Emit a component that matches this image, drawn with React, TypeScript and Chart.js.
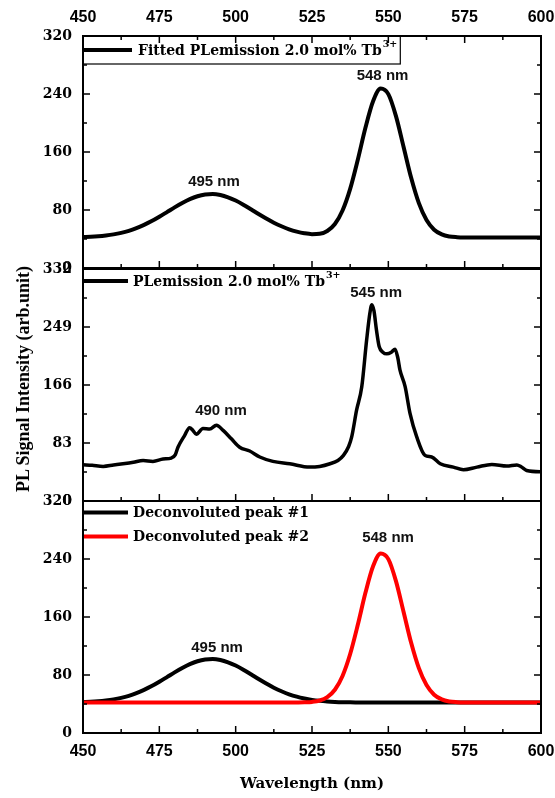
import React, { useEffect, useRef } from "react";
import { Chart, registerables } from "chart.js";

Chart.register(...registerables);

// ---------- data ----------
const X_TICKS = [450, 475, 500, 525, 550, 575, 600];
const FIT_Y_TICKS = [0, 80, 160, 240, 320];
const PL_Y_TICKS = [0, 83, 166, 249, 332];
const DECONV_Y_TICKS = [0, 80, 160, 240, 320];

const WAVELENGTHS = [
  450, 452.5, 455, 457.5, 460, 462.5, 465, 467.5, 470, 472.5, 475, 477.5, 480, 482.5, 485, 487.5,
  490, 492.5, 495, 497.5, 500, 502.5, 505, 507.5, 510, 512.5, 515, 517.5, 520, 522.5, 525, 527.5,
  530, 532.5, 535, 537.5, 540, 542.5, 545, 547.5, 550, 552.5, 555, 557.5, 560, 562.5, 565, 567.5,
  570, 572.5, 575, 577.5, 580, 582.5, 585, 587.5, 590, 592.5, 595, 597.5, 600,
];

const FITTED_PL = [
  42.7, 43.1, 43.8, 44.9, 46.4, 48.5, 51.3, 55.0, 59.5, 64.7, 70.7, 77.1, 83.6, 89.7, 95.0, 99.0,
  101.4, 102.0, 100.6, 97.5, 93.0, 87.3, 81.0, 74.5, 68.3, 62.5, 57.6, 53.4, 50.2, 47.9, 46.7, 47.2,
  51.1, 60.7, 79.3, 109.2, 149.4, 193.4, 230.0, 247.5, 239.8, 209.5, 166.9, 124.0, 89.4, 66.1, 52.8, 46.3,
  43.5, 42.5, 42.1, 42, 42, 42, 42, 42, 42, 42, 42, 42, 42,
];

const PEAK1 = [
  42.7, 43.1, 43.8, 44.9, 46.4, 48.5, 51.3, 55.0, 59.5, 64.7, 70.7, 77.1, 83.6, 89.7, 95.0, 99.0,
  101.4, 102.0, 100.6, 97.5, 93.0, 87.3, 81.0, 74.5, 68.3, 62.5, 57.6, 53.4, 50.1, 47.6, 45.7, 44.4,
  43.5, 42.9, 42.5, 42.3, 42.2, 42.1, 42.0, 42, 42, 42, 42, 42, 42, 42, 42, 42,
  42, 42, 42, 42, 42, 42, 42, 42, 42, 42, 42, 42, 42,
];

const PEAK2 = [
  42, 42, 42, 42, 42, 42, 42, 42, 42, 42, 42, 42, 42, 42, 42, 42,
  42, 42, 42, 42, 42, 42, 42, 42, 42, 42, 42, 42, 42.1, 42.3, 42.9, 44.8,
  49.6, 59.7, 78.7, 108.9, 149.2, 193.3, 229.9, 247.5, 239.8, 209.5, 166.9, 124.0, 89.4, 66.1, 52.8, 46.3,
  43.5, 42.5, 42.1, 42, 42, 42, 42, 42, 42, 42, 42, 42, 42,
];

const PL_WAVELENGTHS = [
  450, 453, 456.6, 460, 463.1, 466.5, 469.7, 472.9, 476.2, 478.9, 480.2, 481.1, 483.3, 484.9, 486,
  487.1, 489.3, 491.5, 493.7, 495.9, 498.6, 501.3, 504.6, 507.9, 512.2, 517.7, 524.2, 527.5, 530.9,
  533.5, 535.3, 537, 538, 539.6, 541.3, 542.9, 544, 544.6, 545.3, 546.1, 547, 548.2, 549.5, 551,
  552.2, 553.1, 553.8, 555.5, 557.1, 559.3, 562, 564.2, 567, 571.3, 574.6, 579, 583.9, 588.8, 592.1,
  593.5, 595.3, 599.7, 600,
];
const PL_SIGNAL = [
  52, 51, 49.5, 51.5, 53.3, 55.5, 58, 56.7, 60, 61.5, 66, 77, 94, 105, 101,
  95.5, 103.7, 103, 108.5, 101, 89, 77, 71.5, 63, 56.7, 53.3, 48.5, 49.5, 53.3,
  58, 65.3, 78, 91.7, 130, 163.6, 230.7, 270, 281, 272, 245, 221, 213, 210.6, 213,
  217.3, 205, 187.6, 163.6, 125.3, 91.7, 65.3, 63, 53.3, 48.5, 44.7, 48.5, 52.4, 50, 51.5,
  49, 43.7, 42, 42,
];

const FIT_LABELS = [
  { text: "495 nm", x: 492.9, y: 119 },
  { text: "548 nm", x: 548.1, y: 265 },
];
const PL_LABELS = [
  { text: "490 nm", x: 495.2, y: 128.6 },
  { text: "545 nm", x: 546, y: 298 },
];
const DECONV_LABELS = [
  { text: "495 nm", x: 493.9, y: 117.7 },
  { text: "548 nm", x: 549.9, y: 269.4 },
];

const LEGEND_FIT = "Fitted PLemission 2.0 mol% Tb";
const LEGEND_PL = "PLemission 2.0 mol% Tb";
const LEGEND_P1 = "Deconvoluted peak #1";
const LEGEND_P2 = "Deconvoluted peak #2";
const ION_CHARGE = "3+";

const X_TITLE = "Wavelength (nm)";
const Y_TITLE = "PL Signal Intensity (arb.unit)";

// ---------- styling ----------
const SERIF = '"DejaVu Serif", serif';
const SANS = '"Liberation Sans", Arial, sans-serif';
const W = 555;

type LegendItem = { text: string; sup?: string; color: string; dy: number };
type Spec = {
  topTicks: boolean;
  yTicks: number[];
  labels: { text: string; x: number; y: number }[];
  legend: LegendItem[];
  legendBox: boolean;
  lineLen: number;
  gap: number;
};

function mids(a: number[]) {
  return a.slice(1).map((v, i) => (v + a[i]) / 2);
}

function makeDecor(spec: Spec) {
  return {
    id: "decor",
    afterDraw(chart: any) {
      const { ctx, chartArea: a } = chart;
      const xs = chart.scales.x;
      const ys = chart.scales.y;
      ctx.save();
      ctx.strokeStyle = "#000";
      ctx.lineCap = "butt";

      // inward ticks
      const MAJ = 7;
      const MIN = 4;
      ctx.lineWidth = 1.5;
      const xTicks = [
        ...X_TICKS.map((v) => [v, MAJ]),
        ...mids(X_TICKS).map((v) => [v, MIN]),
      ];
      xTicks.forEach(([v, len]) => {
        const px = xs.getPixelForValue(v);
        ctx.beginPath();
        ctx.moveTo(px, a.bottom);
        ctx.lineTo(px, a.bottom - len);
        if (spec.topTicks) {
          ctx.moveTo(px, a.top);
          ctx.lineTo(px, a.top + len);
        }
        ctx.stroke();
      });
      const yTicks = [
        ...spec.yTicks.map((v) => [v, MAJ]),
        ...mids(spec.yTicks).map((v) => [v, MIN]),
      ];
      yTicks.forEach(([v, len]) => {
        const py = ys.getPixelForValue(v);
        ctx.beginPath();
        ctx.moveTo(a.left, py);
        ctx.lineTo(a.left + len, py);
        ctx.moveTo(a.right, py);
        ctx.lineTo(a.right - len, py);
        ctx.stroke();
      });

      // peak annotations
      ctx.fillStyle = "#111";
      ctx.font = `bold 15px ${SANS}`;
      ctx.textAlign = "center";
      ctx.textBaseline = "middle";
      spec.labels.forEach((l) => {
        ctx.fillText(l.text, xs.getPixelForValue(l.x), ys.getPixelForValue(l.y));
      });

      // legend
      ctx.textAlign = "left";
      let textEnd = a.left;
      spec.legend.forEach((it) => {
        const y = a.top + it.dy;
        ctx.strokeStyle = it.color;
        ctx.lineWidth = 4;
        ctx.beginPath();
        ctx.moveTo(a.left, y);
        ctx.lineTo(a.left + spec.lineLen, y);
        ctx.stroke();
        const tx = a.left + spec.lineLen + spec.gap;
        ctx.fillStyle = "#000";
        ctx.font = `bold 14px ${SERIF}`;
        ctx.textBaseline = "middle";
        ctx.fillText(it.text, tx, y + 1);
        let end = tx + ctx.measureText(it.text).width;
        if (it.sup) {
          ctx.font = `bold 9.5px ${SERIF}`;
          ctx.fillText(it.sup, end + 1, y - 5);
          end += 1 + ctx.measureText(it.sup).width;
        }
        textEnd = Math.max(textEnd, end);
      });
      if (spec.legendBox) {
        ctx.strokeStyle = "#000";
        ctx.lineWidth = 1.2;
        ctx.strokeRect(a.left, a.top, textEnd + 3 - a.left, 28);
      }

      // frame
      ctx.strokeStyle = "#000";
      ctx.lineWidth = 2;
      ctx.strokeRect(a.left, a.top, a.right - a.left, a.bottom - a.top);
      ctx.restore();
    },
  };
}

type PanelCfg = {
  datasets: any[];
  spec: Spec;
  yMax: number;
  xPosition: "top" | "bottom" | "none";
  xHeight: number;
  padTop: number;
  padBottom: number;
};

function buildChart(canvas: HTMLCanvasElement, cfg: PanelCfg) {
  const tickFontX = { family: SANS, size: 16, weight: "bold" as const };
  const tickFontY = { family: SERIF, size: 14, weight: "bold" as const };
  const xScale: any = {
    type: "linear",
    min: 450,
    max: 600,
    display: cfg.xPosition !== "none",
    position: cfg.xPosition === "top" ? "top" : "bottom",
    grid: { display: false, drawTicks: false },
    border: { display: false },
    ticks: { color: "#000", font: tickFontX, padding: 9, maxRotation: 0 },
    afterBuildTicks: (s: any) => {
      s.ticks = X_TICKS.map((v) => ({ value: v }));
    },
    afterFit: (s: any) => {
      s.height = cfg.xHeight;
      s.paddingLeft = 0;
      s.paddingRight = 0;
    },
  };
  if (cfg.xPosition === "bottom") {
    xScale.title = {
      display: true,
      text: X_TITLE,
      color: "#000",
      font: { family: SERIF, size: 15, weight: "bold" },
      padding: { top: 0, bottom: 5 },
    };
  }
  return new Chart(canvas, {
    type: "line",
    data: { datasets: cfg.datasets },
    plugins: [makeDecor(cfg.spec)],
    options: {
      animation: false,
      responsive: false,
      devicePixelRatio: 1,
      events: [],
      layout: { padding: { left: 0, right: 14, top: cfg.padTop, bottom: cfg.padBottom } },
      plugins: { legend: { display: false }, tooltip: { enabled: false } },
      elements: { point: { radius: 0 } },
      scales: {
        x: xScale,
        y: {
          type: "linear",
          min: 0,
          max: cfg.yMax,
          grid: { display: false, drawTicks: false },
          border: { display: false },
          ticks: { color: "#000", font: tickFontY, padding: 11 },
          afterBuildTicks: (s: any) => {
            s.ticks = cfg.spec.yTicks.map((v) => ({ value: v }));
          },
          afterFit: (s: any) => {
            s.width = 83;
            s.paddingTop = 0;
            s.paddingBottom = 0;
          },
        },
      },
    } as any,
  });
}

const line = (xs: number[], ys: number[], color: string, width: number, order: number) => ({
  data: xs.map((x, i) => ({ x, y: ys[i] })),
  borderColor: color,
  borderWidth: width,
  pointRadius: 0,
  fill: false,
  cubicInterpolationMode: "monotone",
  order,
});

export default function App() {
  const topRef = useRef<HTMLCanvasElement>(null);
  const midRef = useRef<HTMLCanvasElement>(null);
  const botRef = useRef<HTMLCanvasElement>(null);

  useEffect(() => {
    const charts: Chart[] = [];
    charts.push(
      buildChart(topRef.current!, {
        datasets: [line(WAVELENGTHS, FITTED_PL, "#000", 4, 0)],
        spec: {
          topTicks: true,
          yTicks: FIT_Y_TICKS,
          labels: FIT_LABELS,
          legend: [{ text: LEGEND_FIT, sup: ION_CHARGE, color: "#000", dy: 14 }],
          legendBox: true,
          lineLen: 49,
          gap: 6,
        },
        yMax: 320,
        xPosition: "top",
        xHeight: 36,
        padTop: 0,
        padBottom: 22,
      })
    );
    charts.push(
      buildChart(midRef.current!, {
        datasets: [line(PL_WAVELENGTHS, PL_SIGNAL, "#000", 3.5, 0)],
        spec: {
          topTicks: false,
          yTicks: PL_Y_TICKS,
          labels: PL_LABELS,
          legend: [{ text: LEGEND_PL, sup: ION_CHARGE, color: "#000", dy: 12 }],
          legendBox: false,
          lineLen: 45,
          gap: 5,
        },
        yMax: 332,
        xPosition: "none",
        xHeight: 0,
        padTop: 19,
        padBottom: 19,
      })
    );
    charts.push(
      buildChart(botRef.current!, {
        datasets: [
          line(WAVELENGTHS, PEAK2, "#ff0000", 4, 0),
          line(WAVELENGTHS, PEAK1, "#000", 4, 1),
        ],
        spec: {
          topTicks: false,
          yTicks: DECONV_Y_TICKS,
          labels: DECONV_LABELS,
          legend: [
            { text: LEGEND_P1, color: "#000", dy: 11.5 },
            { text: LEGEND_P2, color: "#ff0000", dy: 35.5 },
          ],
          legendBox: false,
          lineLen: 45,
          gap: 5,
        },
        yMax: 320,
        xPosition: "bottom",
        xHeight: 65,
        padTop: 11,
        padBottom: 0,
      })
    );
    return () => charts.forEach((c) => c.destroy());
  }, []);

  const cv = (top: number, h: number): React.CSSProperties => ({
    position: "absolute",
    left: 0,
    top,
    width: W,
    height: h,
  });

  return (
    <div style={{ position: "absolute", left: 0, top: 0, width: W, height: 798, background: "#fff" }}>
      <canvas ref={topRef} width={W} height={290} style={cv(0, 290)} />
      <canvas ref={midRef} width={W} height={270} style={cv(250, 270)} />
      <canvas ref={botRef} width={W} height={308} style={cv(490, 308)} />
      <div
        style={{
          position: "absolute",
          left: 23,
          top: 379,
          transform: "translate(-50%, -50%) rotate(-90deg)",
          whiteSpace: "nowrap",
          fontFamily: '"Liberation Serif", serif',
          fontWeight: "bold",
          fontSize: 18,
          color: "#000",
          lineHeight: 1,
        }}
      >
        {Y_TITLE}
      </div>
    </div>
  );
}
